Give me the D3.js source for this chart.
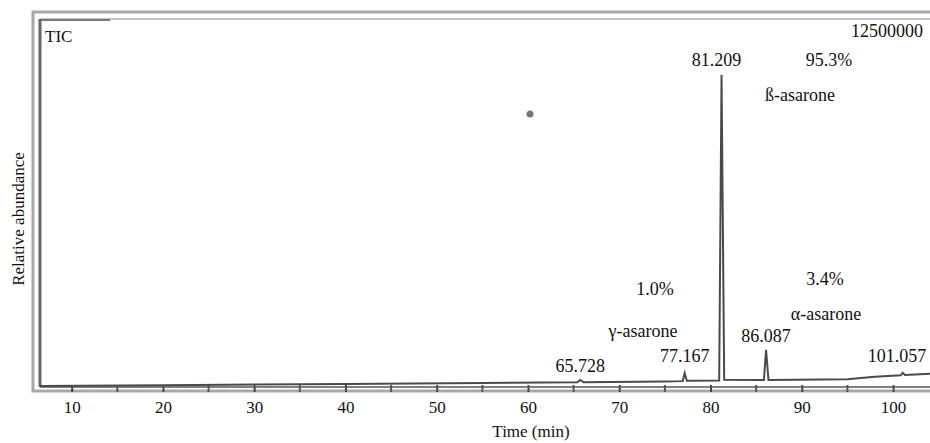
<!DOCTYPE html>
<html>
<head>
<meta charset="utf-8">
<script src="https://cdn.jsdelivr.net/npm/d3@7"></script>
<style>
  body { margin: 0; background: #fff; }
</style>
</head>
<body>
<div class="container"></div>
<script>
// chromatogram trace, time (min) vs relative abundance (%)
var traceTime = [6.5, 20, 40, 55, 65.4, 65.728, 66.1, 75, 76.95, 77.167, 77.4, 80.95, 81.209, 81.5, 85.85, 86.087, 86.35, 95, 98, 100.85, 101.057, 101.3, 104.1];
var traceValue = [0.3, 0.5, 0.8, 1.1, 1.3, 1.9, 1.3, 1.5, 1.6, 3.8, 1.7, 1.8, 85.0, 2.0, 1.9, 10.1, 1.9, 2.1, 2.8, 3.2, 3.9, 3.3, 3.6];

var peakTimes = [65.728, 77.167, 81.209, 86.087, 101.057];
var peakLabels = ['65.728', '77.167', '81.209', '86.087', '101.057'];

var compoundNames = ['\u03b3-asarone', '\u00df-asarone', '\u03b1-asarone'];
var compoundShares = ['1.0%', '95.3%', '3.4%'];

var xTicks = [10, 20, 30, 40, 50, 60, 70, 80, 90, 100];
var xMinorTicks = [15, 25, 35, 45, 55, 65, 75, 85, 95];

var W = 930, H = 443;
var SERIF = '"Liberation Serif", "Times New Roman", serif';

var svg = d3.select('.container').append('svg')
    .attr('width', W)
    .attr('height', H)
    .style('font-family', SERIF);

var x = d3.scaleLinear().domain([6.53, 104.05]).range([40, 930]);
var y = d3.scaleLinear().domain([0, 100]).range([387, 20]);

// frame
svg.append('rect')
    .attr('x', 33).attr('y', 12)
    .attr('width', 910).attr('height', 379)
    .attr('fill', 'none')
    .attr('stroke', '#a8a8a8')
    .attr('stroke-width', 3);
svg.append('line')
    .attr('x1', 40).attr('x2', 930).attr('y1', 19).attr('y2', 19)
    .attr('stroke', '#c4c4c4').attr('stroke-width', 2);
svg.append('line')
    .attr('x1', 40).attr('x2', 110).attr('y1', 20).attr('y2', 20)
    .attr('stroke', '#777').attr('stroke-width', 2);
svg.append('line')
    .attr('x1', 40).attr('x2', 40).attr('y1', 19).attr('y2', 387)
    .attr('stroke', '#666').attr('stroke-width', 3);

// axis
var axis = svg.append('g').attr('transform', 'translate(0,385)');
axis.call(d3.axisBottom(x).tickValues(xTicks).tickSize(7).tickPadding(9).tickFormat(d3.format('d')));
axis.attr('font-family', SERIF).attr('font-size', 17);
axis.select('.domain').remove();
axis.selectAll('.tick line').attr('stroke', '#444').attr('stroke-width', 2);
axis.selectAll('.tick text')
    .style('font-family', SERIF)
    .style('font-size', '17px')
    .attr('fill', '#111');

axis.selectAll('.minor')
    .data(xMinorTicks)
    .enter()
    .append('line')
    .attr('x1', function (d) { return x(d); })
    .attr('x2', function (d) { return x(d); })
    .attr('y1', 0).attr('y2', 7)
    .attr('stroke', '#555').attr('stroke-width', 2);

svg.append('line')
    .attr('x1', 40).attr('x2', 930).attr('y1', y(0)).attr('y2', y(0))
    .attr('stroke', '#555').attr('stroke-width', 1.5);

// trace
var traceData = traceTime.map(function (t, i) { return [t, traceValue[i]]; });
var line = d3.line()
    .x(function (d) { return x(d[0]); })
    .y(function (d) { return y(d[1]); });

svg.append('path')
    .datum(traceData)
    .attr('d', line)
    .attr('fill', 'none')
    .attr('stroke', '#4a4a4a')
    .attr('stroke-width', 2);

// scan speck
svg.append('circle').attr('cx', 530).attr('cy', 114).attr('r', 3.5).attr('fill', '#777');

function addText(sel) {
    return sel
        .style('font-family', SERIF)
        .style('font-size', '18px')
        .attr('fill', '#111');
}

// peak labels, placed above each peak
var peakLabelY = [372, 362, 66, 342, 362];
var peakLabelDx = [0, 0, -5, 0, 3];
addText(svg.selectAll('.peak-label')
    .data(peakTimes)
    .enter()
    .append('text')
    .attr('class', 'peak-label')
    .attr('x', function (d, i) { return Math.min(x(d) + peakLabelDx[i], 897); })
    .attr('y', function (d, i) { return peakLabelY[i]; })
    .attr('text-anchor', 'middle')
    .text(function (d, i) { return peakLabels[i]; }));

// compound names and shares
var namePos = [[643, 337], [800, 101], [826, 320]];
var sharePos = [[655, 295], [829, 66], [825, 285]];
addText(svg.selectAll('.cname')
    .data(compoundNames)
    .enter()
    .append('text')
    .attr('class', 'cname')
    .attr('x', function (d, i) { return namePos[i][0]; })
    .attr('y', function (d, i) { return namePos[i][1]; })
    .attr('text-anchor', 'middle')
    .text(function (d) { return d; }));
addText(svg.selectAll('.cshare')
    .data(compoundShares)
    .enter()
    .append('text')
    .attr('class', 'cshare')
    .attr('x', function (d, i) { return sharePos[i][0]; })
    .attr('y', function (d, i) { return sharePos[i][1]; })
    .attr('text-anchor', 'middle')
    .text(function (d) { return d; }));

addText(svg.append('text'))
    .attr('x', 45).attr('y', 42)
    .style('font-size', '17px')
    .text('TIC');
addText(svg.append('text'))
    .attr('x', 923).attr('y', 37)
    .attr('text-anchor', 'end')
    .text('12500000');

addText(svg.append('text'))
    .attr('x', 531).attr('y', 437)
    .attr('text-anchor', 'middle')
    .style('font-size', '17px')
    .text('Time (min)');
addText(svg.append('text'))
    .attr('transform', 'translate(24,219) rotate(-90)')
    .attr('text-anchor', 'middle')
    .style('font-size', '17px')
    .text('Relative abundance');
</script>
</body>
</html>
